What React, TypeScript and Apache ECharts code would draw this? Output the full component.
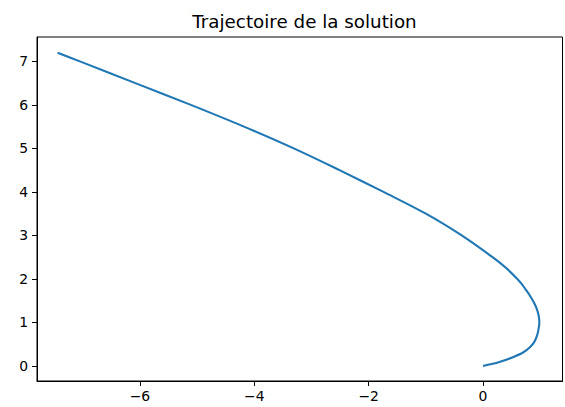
import React, { useEffect, useRef } from "react";
import * as echarts from "echarts";

const xValues = [0, 0.15, 0.3, 0.5, 0.7, 0.82, 0.9, 0.95, 0.975, 0.985, 0.98, 0.966, 0.943, 0.912, 0.873, 0.816, 0.75, 0.682, 0.6, 0.405, 0.167, -0.373, -1.0, -1.74, -2.51, -3.31, -4.18, -5.11, -6.08, -7.05, -7.44];
const yValues = [0, 0.045, 0.1, 0.19, 0.31, 0.43, 0.56, 0.72, 0.88, 1.0, 1.1, 1.2, 1.3, 1.4, 1.5, 1.625, 1.75, 1.875, 2.0, 2.25, 2.5, 3.0, 3.5, 4.0, 4.5, 5.0, 5.5, 6.0, 6.5, 7.0, 7.2];
const xTicks = [-6, -4, -2, 0];
const yTicks = [0, 1, 2, 3, 4, 5, 6, 7];
const titleText = "Trajectoire de la solution";

const fmt = (v: number) => (v < 0 ? "\u2212" + Math.abs(v) : String(v));

export default function App() {
  const ref = useRef<HTMLDivElement>(null);
  useEffect(() => {
    if (!ref.current) return;
    const chart = echarts.init(ref.current, undefined, { renderer: "svg" });
    const font = "DejaVu Sans";
    chart.setOption({
      animation: false,
      backgroundColor: "#ffffff",
      title: {
        text: titleText,
        left: 299.5,
        textAlign: "center",
        top: 7,
        textStyle: { fontFamily: font, fontSize: 18.3, fontWeight: "normal", color: "#000" },
      },
      grid: {
        left: 37,
        right: 2.5,
        top: 37,
        bottom: 26,
        show: true,
        borderColor: "#000",
        borderWidth: 1,
        containLabel: false,
      },
      xAxis: {
        type: "value",
        min: -7.8,
        max: 1.39,
        splitLine: { show: false },
        axisLine: { show: true, onZero: false, lineStyle: { color: "#000", width: 1 } },
        axisTick: { show: true, inside: false, length: 5, customValues: xTicks, lineStyle: { color: "#000" } },
        axisLabel: {
          customValues: xTicks,
          formatter: fmt,
          margin: 8,
          fontFamily: font,
          fontSize: 13.9,
          color: "#000",
        },
      },
      yAxis: {
        type: "value",
        min: -0.345,
        max: 7.56,
        splitLine: { show: false },
        axisLine: { show: true, onZero: false, lineStyle: { color: "#000", width: 1 } },
        axisTick: { show: true, inside: false, length: 5, customValues: yTicks, lineStyle: { color: "#000" } },
        axisLabel: {
          customValues: yTicks,
          formatter: fmt,
          margin: 9,
          fontFamily: font,
          fontSize: 13.9,
          color: "#000",
        },
      },
      series: [
        {
          type: "line",
          data: xValues.map((x, i) => [x, yValues[i]]),
          showSymbol: false,
          smooth: 0.35,
          lineStyle: { color: "#1f77b4", width: 2.1 },
          clip: true,
        },
      ],
    });
    return () => chart.dispose();
  }, []);
  return (
    <div
      ref={ref}
      style={{ position: "fixed", left: 0, top: 0, width: 565, height: 407 }}
    />
  );
}
